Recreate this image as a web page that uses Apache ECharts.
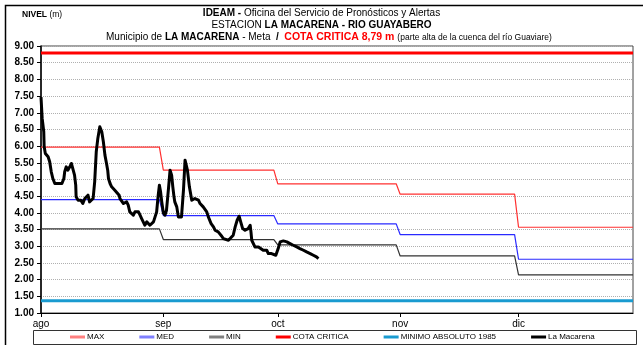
<!DOCTYPE html>
<html>
<head>
<meta charset="utf-8">
<script src="https://cdn.jsdelivr.net/npm/echarts@6/dist/echarts.min.js"></script>
<style>
  html, body { margin: 0; padding: 0; background: #fff; }
  #chart { width: 643px; height: 345px; }
</style>
</head>
<body>
<div id="chart"></div>
<script>
// Day offsets (from 1 Aug) where each month begins, and the axis labels for them
const monthStarts = [0, 31, 60, 91, 121];
const monthLabels = ['ago', 'sep', 'oct', 'nov', 'dic'];
const axisEndDay = 150;

// Monthly reference levels (m), Aug..Dec
const maxLevels = [5.97, 5.28, 4.87, 4.56, 3.57];
const medLevels = [4.40, 3.92, 3.67, 3.35, 2.61];
const minLevels = [3.52, 3.20, 3.04, 2.71, 2.14];
const cotaCritica = 8.79;
const minimoAbsoluto = 1.37;

// Observed level at La Macarena: day offset from 1 Aug and level (m)
const levelDays = [
  0.0, 0.3, 0.7, 0.8, 1.1, 1.8, 2.2, 2.6, 3.0, 3.5, 3.9, 4.5, 5.0, 5.3, 5.8, 6.0,
  6.4, 6.8, 7.3, 7.7, 8.1, 8.5, 8.8, 8.9, 9.4, 10.1, 10.6, 11.1, 11.5, 11.9, 12.3,
  12.7, 13.2, 13.6, 14.0, 14.4, 14.9, 15.1, 15.4, 15.8, 16.2, 16.6, 16.9, 17.1,
  17.5, 17.9, 18.3, 18.7, 19.2, 19.8, 20.0, 20.4, 20.9, 21.3, 21.7, 22.1, 22.5,
  23.0, 23.4, 23.8, 24.2, 24.7, 25.1, 25.5, 25.9, 26.3, 26.8, 27.2, 27.6, 28.0,
  28.5, 28.9, 29.3, 29.7, 30.0, 30.3, 30.6, 31.0, 31.4, 31.8, 32.3, 32.7, 33.1,
  33.4, 33.7, 33.9, 34.4, 34.8, 35.2, 35.6, 36.1, 36.5, 36.7, 37.1, 37.6, 38.2,
  38.6, 39.0, 39.4, 39.9, 40.3, 41.1, 42.0, 42.4, 42.8, 43.1, 43.4, 43.7, 44.1,
  44.5, 44.9, 45.4, 45.8, 46.2, 46.6, 47.5, 47.9, 48.7, 49.2, 49.7, 50.2, 50.6,
  51.1, 51.7, 52.1, 52.5, 53.0, 53.2, 53.4, 53.8, 54.2, 54.6, 55.1, 55.5, 56.3,
  56.8, 57.2, 57.6, 58.0, 58.4, 58.9, 59.5, 60.1, 60.6, 61.0, 61.4, 62.3, 63.1,
  63.9, 64.8, 65.6, 66.0, 66.5, 67.3, 68.2, 69.0, 69.4, 69.8, 70.3
];
const levelValues = [
  7.47, 6.83, 6.43, 5.98, 5.78, 5.68, 5.53, 5.23, 5.03, 4.88, 4.83, 4.88, 4.93, 4.88, 5.03, 5.23,
  5.38, 5.28, 5.38, 5.48, 5.43, 5.13, 4.83, 4.48, 4.38, 4.38, 4.28, 4.43, 4.38, 4.53, 4.33,
  4.38, 4.43, 4.93, 5.83, 6.23, 6.58, 6.60, 6.43, 6.13, 5.73, 5.48, 5.28, 5.03,
  4.88, 4.78, 4.83, 4.68, 4.63, 4.53, 4.43, 4.38, 4.28, 4.23, 4.33, 4.23, 4.03,
  3.98, 3.93, 4.03, 4.08, 4.03, 3.93, 3.83, 3.73, 3.63, 3.73, 3.68, 3.63, 3.58,
  3.73, 3.68, 4.03, 4.53, 4.83, 4.63, 4.33, 4.00, 3.93, 4.08, 4.73, 5.28, 5.13,
  4.78, 4.48, 4.33, 4.18, 3.88, 3.83, 3.88, 4.68, 5.58, 5.58, 5.28, 4.78, 4.38,
  4.33, 4.43, 4.48, 4.38, 4.28, 4.18, 4.03, 3.88, 3.83, 3.68, 3.73, 3.58, 3.48,
  3.48, 3.43, 3.38, 3.30, 3.23, 3.20, 3.18, 3.23, 3.33, 3.58, 3.78, 3.90, 3.73,
  3.53, 3.48, 3.43, 3.53, 3.63, 3.43, 3.18, 3.13, 2.98, 2.93, 2.98, 2.93, 2.88,
  2.93, 2.88, 2.78, 2.83, 2.78, 2.73, 2.73, 2.93, 3.13, 3.18, 3.16, 3.13, 3.08,
  3.03, 2.98, 2.93, 2.98, 2.88, 2.83, 2.78, 2.73, 2.68, 2.68, 2.63
];

// Monthly value held flat across each month, stepping down on the first day of the next
function monthlySteps(values) {
  const pts = [];
  values.forEach((v, i) => {
    const start = monthStarts[i];
    const end = i + 1 < monthStarts.length ? monthStarts[i + 1] - 1 : axisEndDay;
    pts.push([start, v], [end, v]);
  });
  return pts;
}

const FONT = 'Liberation Sans, Arial, sans-serif';
const chart = echarts.init(document.getElementById('chart'), null, { renderer: 'canvas' });

const B = { fontFamily: FONT, fontSize: 10, fontWeight: 'bold', color: '#000' };
const N = { fontFamily: FONT, fontSize: 10, fontWeight: 'normal', color: '#000' };

const option = {
  animation: false,
  backgroundColor: '#ffffff',
  textStyle: { fontFamily: FONT },
  title: [
    {
      left: 'center', top: 8, padding: 0,
      text: '{b|IDEAM - }{n|Oficina del Servicio de Pronósticos y Alertas}',
      textStyle: { fontWeight: 'normal', rich: { b: B, n: N } }
    },
    {
      left: 'center', top: 20, padding: 0,
      text: '{n|ESTACION }{b|LA MACARENA - RIO GUAYABERO}',
      textStyle: { fontWeight: 'normal', rich: { b: B, n: N } }
    },
    {
      left: 106, top: 32, padding: 0,
      text: '{n|Municipio de }{b|LA MACARENA}{n| - Meta  }{b|/  }{r|COTA CRITICA 8,79 m }{s|(parte alta de la cuenca del río Guaviare)}',
      textStyle: { fontWeight: 'normal', rich: {
        b: B, n: N,
        r: { fontFamily: FONT, fontSize: 10.5, fontWeight: 'bold', color: '#ff0000' },
        s: { fontFamily: FONT, fontSize: 8.5, fontWeight: 'normal', color: '#000' }
      } }
    },
    {
      left: 22, top: 10, padding: 0,
      text: '{b|NIVEL }{n|(m)}',
      textStyle: { fontWeight: 'normal', rich: {
        b: { fontFamily: FONT, fontSize: 8.5, fontWeight: 'bold', color: '#000' },
        n: { fontFamily: FONT, fontSize: 8.5, fontWeight: 'normal', color: '#000' }
      } }
    }
  ],
  grid: { left: 41, right: 10, top: 46, bottom: 32, show: true, borderColor: '#444', borderWidth: 1, backgroundColor: 'transparent' },
  xAxis: {
    type: 'value', min: 0, max: axisEndDay,
    axisLine: { show: true, lineStyle: { color: '#000', width: 1.2 } },
    axisTick: { show: true, customValues: monthStarts, length: 4, lineStyle: { color: '#000' } },
    axisLabel: {
      customValues: monthStarts, margin: 6, fontSize: 10, color: '#000', fontFamily: FONT,
      formatter: (v) => monthLabels[monthStarts.indexOf(v)]
    },
    splitLine: { show: false }
  },
  yAxis: {
    type: 'value', min: 1, max: 9, interval: 0.5,
    axisLine: { show: true, lineStyle: { color: '#000', width: 1.5 } },
    axisTick: { show: true, length: 4, lineStyle: { color: '#000' } },
    axisLabel: { fontSize: 10, fontWeight: 'bold', color: '#000', margin: 7, fontFamily: FONT,
      formatter: (v) => v.toFixed(2) },
    splitLine: { show: true, lineStyle: { color: '#b0b0b0', type: [1, 1], width: 1 } }
  },
  legend: {
    left: 70, top: 333, padding: 0, itemGap: 35, itemWidth: 15, itemHeight: 3, icon: 'rect',
    textStyle: { fontSize: 8, color: '#000', fontFamily: FONT, padding: [0, 0, 0, -3] },
    data: [
      { name: 'MAX', itemStyle: { color: '#ff8080' } },
      { name: 'MED', itemStyle: { color: '#8080ff' } },
      { name: 'MIN', itemStyle: { color: '#808080' } },
      { name: 'COTA CRITICA', itemStyle: { color: '#ff0000' } },
      { name: 'MINIMO ABSOLUTO 1985', itemStyle: { color: '#1a9bd0' } },
      { name: 'La Macarena', itemStyle: { color: '#000000' } }
    ]
  },
  graphic: [
    { type: 'rect', shape: { x: 5.5, y: 5.5, width: 700, height: 400 }, style: { fill: 'none', stroke: '#000', lineWidth: 1.5 }, silent: true },
    { type: 'rect', shape: { x: 33.5, y: 330.5, width: 603, height: 14 }, style: { fill: 'none', stroke: '#333', lineWidth: 1 }, silent: true }
  ],
  series: [
    { name: 'MAX', type: 'line', symbol: 'none', data: monthlySteps(maxLevels),
      lineStyle: { color: '#ff3030', width: 1.2 }, itemStyle: { color: '#ff3030' }, z: 3 },
    { name: 'MED', type: 'line', symbol: 'none', data: monthlySteps(medLevels),
      lineStyle: { color: '#2a2aff', width: 1.2 }, itemStyle: { color: '#2a2aff' }, z: 3 },
    { name: 'MIN', type: 'line', symbol: 'none', data: monthlySteps(minLevels),
      lineStyle: { color: '#333333', width: 1.2 }, itemStyle: { color: '#333333' }, z: 3 },
    { name: 'COTA CRITICA', type: 'line', symbol: 'none', data: [[0, cotaCritica], [axisEndDay, cotaCritica]],
      lineStyle: { color: '#ff0000', width: 3 }, itemStyle: { color: '#ff0000' }, z: 3 },
    { name: 'MINIMO ABSOLUTO 1985', type: 'line', symbol: 'none', data: [[0, minimoAbsoluto], [axisEndDay, minimoAbsoluto]],
      lineStyle: { color: '#1a9bd0', width: 3 }, itemStyle: { color: '#1a9bd0' }, z: 3 },
    { name: 'La Macarena', type: 'line', symbol: 'none', data: levelDays.map((d, i) => [d, levelValues[i]]),
      lineStyle: { color: '#000', width: 3, join: 'round' }, itemStyle: { color: '#000' }, z: 5 }
  ]
};
chart.setOption(option);
</script>
</body>
</html>
